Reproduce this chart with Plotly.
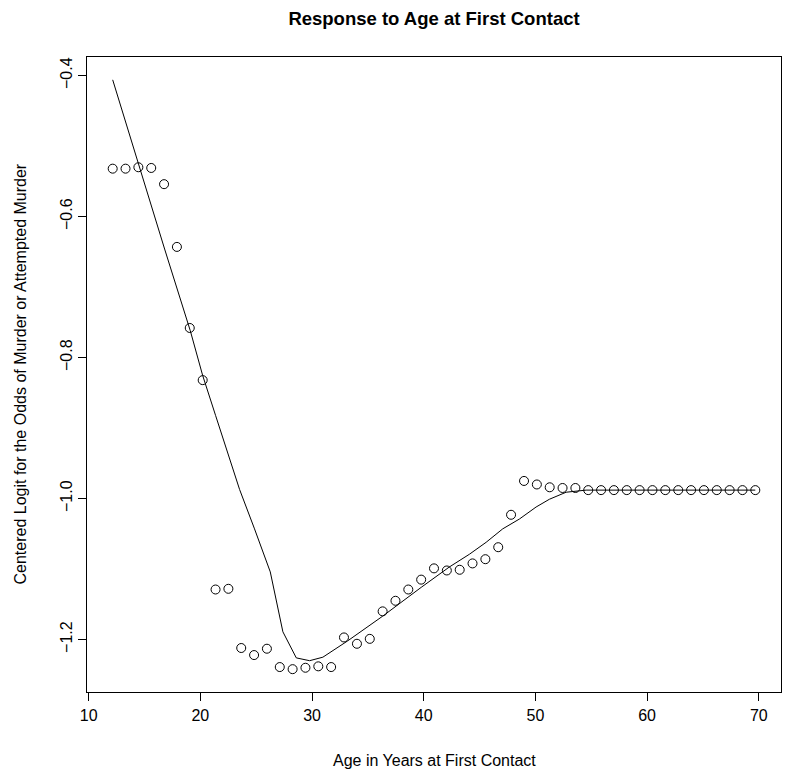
import plotly.graph_objects as go

# Observed points (age, centered logit)
ages = [12.15, 13.30, 14.45, 15.60, 16.75, 17.90, 19.05, 20.21, 21.36, 22.51,
        23.66, 24.81, 25.96, 27.11, 28.26, 29.41, 30.56, 31.71, 32.86, 34.02,
        35.17, 36.32, 37.47, 38.62, 39.77, 40.92, 42.07, 43.22, 44.37, 45.52,
        46.67, 47.82, 48.98, 50.13, 51.28, 52.43, 53.58, 54.73, 55.88, 57.03,
        58.18, 59.33, 60.48, 61.63, 62.79, 63.94, 65.09, 66.24, 67.39, 68.54,
        69.69]
logits = [-0.532, -0.532, -0.530, -0.531, -0.554, -0.643, -0.758, -0.832, -1.129, -1.128,
          -1.212, -1.222, -1.213, -1.239, -1.242, -1.240, -1.238, -1.239, -1.197, -1.206,
          -1.199, -1.160, -1.145, -1.129, -1.115, -1.099, -1.102, -1.101, -1.092, -1.086,
          -1.069, -1.023, -0.975, -0.980, -0.984, -0.985, -0.985, -0.988, -0.988, -0.988,
          -0.988, -0.988, -0.988, -0.988, -0.988, -0.988, -0.988, -0.988, -0.988, -0.988,
          -0.988]

# Fitted curve
fit_age = [12.15, 14.47, 16.80, 19.10, 20.20, 21.36, 23.51, 24.85, 25.84, 26.26,
           27.39, 28.59, 29.78, 30.97, 33.18, 36.31, 39.77, 42.30, 44.09, 45.59,
           47.07, 48.57, 50.06, 51.25, 52.75, 54.54, 69.69]
fit_logit = [-0.406, -0.527, -0.646, -0.762, -0.825, -0.882, -0.987, -1.043, -1.086, -1.104,
             -1.189, -1.226, -1.230, -1.225, -1.202, -1.167, -1.126, -1.097, -1.079, -1.062,
             -1.043, -1.029, -1.012, -1.001, -0.991, -0.988, -0.988]

x_ticks = [10, 20, 30, 40, 50, 60, 70]
y_ticks = [-1.2, -1.0, -0.8, -0.6, -0.4]

FONT = "Liberation Sans, Arial, Helvetica, sans-serif"

fig = go.Figure()
fig.add_trace(go.Scatter(x=fit_age, y=fit_logit, mode="lines",
                         line=dict(color="black", width=1), showlegend=False,
                         hoverinfo="skip"))
fig.add_trace(go.Scatter(x=ages, y=logits, mode="markers",
                         marker=dict(symbol="circle-open", size=9,
                                     color="black", line=dict(width=1, color="black")),
                         showlegend=False))

fig.update_layout(
    width=785, height=783,
    margin=dict(l=87, r=4, t=57, b=91),
    paper_bgcolor="white", plot_bgcolor="white",
    font=dict(family=FONT, size=16, color="black"),
    title=dict(text="<b>Response to Age at First Contact</b>",
               font=dict(family=FONT, size=18.5, color="black"),
               x=0.5, xref="paper", y=1 - 19 / 783, yref="container",
               xanchor="center", yanchor="middle"),
    xaxis=dict(range=[9.85, 71.99], tickvals=x_ticks, ticktext=[str(v) for v in x_ticks],
               showgrid=False, zeroline=False, showline=True, mirror=True,
               linecolor="black", linewidth=1, ticks="outside", ticklen=8,
               tickcolor="black", tickwidth=1, tickfont=dict(size=16),
               ticklabelstandoff=1),
    yaxis=dict(range=[-1.2744, -0.3736], tickvals=y_ticks,
               ticktext=["\u22121.2", "\u22121.0", "\u22120.8", "\u22120.6", "\u22120.4"],
               showgrid=False, zeroline=False, showline=True, mirror=True,
               linecolor="black", linewidth=1, ticks="outside", ticklen=8,
               tickcolor="black", tickwidth=1, tickangle=-90, tickfont=dict(size=16)),
    annotations=[
        dict(text="Age in Years at First Contact", xref="paper", yref="paper",
             x=0.5, y=0, xanchor="center", yanchor="middle", yshift=-68,
             showarrow=False, font=dict(family=FONT, size=16, color="black")),
        dict(text="Centered Logit for the Odds of Murder or Attempted Murder",
             xref="paper", yref="paper", x=0, y=0.5, xanchor="center",
             yanchor="middle", xshift=-67, textangle=-90, showarrow=False,
             font=dict(family=FONT, size=16, color="black")),
    ],
)

fig.write_html(
    "out.html",
    config={"displayModeBar": False},
    post_script="document.body.style.margin='0';document.body.style.overflow='hidden';",
)
